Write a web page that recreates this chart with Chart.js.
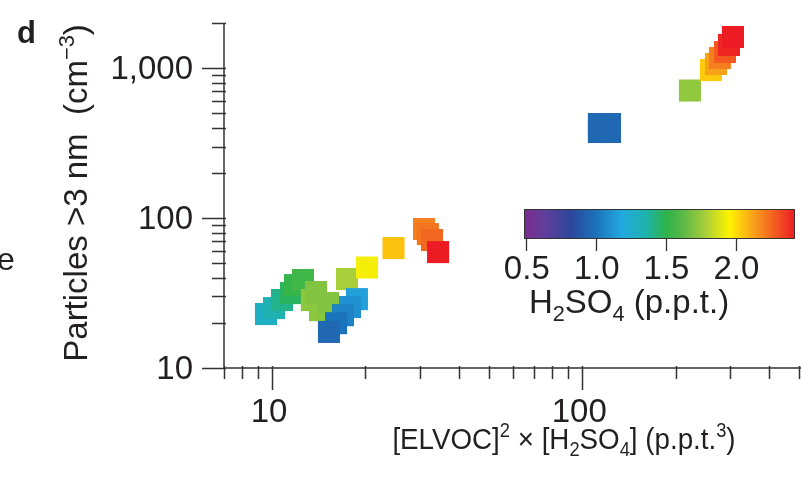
<!DOCTYPE html>
<html>
<head>
<meta charset="utf-8">
<script src="https://cdn.jsdelivr.net/npm/chart.js@4.4.1/dist/chart.umd.min.js"></script>
<style>
  html, body { margin: 0; padding: 0; background: #ffffff; }
  #wrap { position: relative; width: 801px; height: 481px; overflow: hidden; background: #ffffff; }
  #main { position: absolute; left: 0; top: 0; }
  #cbBox { position: absolute; left: 494px; top: 195px; width: 307px; height: 104px; }
</style>
</head>
<body>
<div id="wrap">
  <canvas id="main" width="801" height="481"></canvas>
  <div id="cbBox"><canvas id="cb" width="307" height="104"></canvas></div>
</div>
<script>
// ---------------- data ----------------
// [ELVOC]^2 x [H2SO4] (p.p.t.^3)
const xValues = [
  9.56, 10.15, 10.77, 11.51, 11.86, 12.58,
  13.44, 14.27, 15.15, 13.86,
  17.44, 20.24, 24.64,
  30.9, 31.8, 32.8, 34.3,
  18.78, 17.84, 16.93, 16.08, 15.26,
  113.2, 122.9, 113.2, 122.9,
  222.5, 260.1, 269.9, 278.0, 288.6, 297.3, 306.2
];
// Particles > 3 nm (cm^-3)
const yValues = [
  22.9, 25.1, 28.4, 31.6, 35.7, 38.6,
  28.4, 24.3, 27.1, 32.1,
  39.2, 46.8, 63.1,
  84.5, 78.2, 71.4, 59.3,
  28.8, 25.5, 22.5, 19.9, 17.4,
  424, 424, 375, 375,
  709, 971, 1065, 1168, 1281, 1427, 1613
];
// H2SO4 (p.p.t.) colour value
const h2so4Values = [
  1.28, 1.33, 1.40, 1.47, 1.52, 1.55,
  1.72, 1.72, 1.70, 1.70,
  1.78, 1.93, 2.05,
  2.20, 2.22, 2.25, 2.42,
  1.15, 1.10, 1.05, 1.00, 0.95,
  0.95, 0.95, 0.95, 0.95,
  1.73, 2.03, 2.12, 2.20, 2.28, 2.40, 2.42
];

const xMajorTicks = [10, 100];
const xTickLabels = ['10', '100'];
const xMinorTicks = [7, 8, 9, 20, 30, 40, 50, 60, 70, 80, 90, 200, 300, 400, 500];
const yMajorTicks = [10, 100, 1000];
const yTickLabels = ['10', '100', '1,000'];
const yMinorTicks = [20, 30, 40, 50, 60, 70, 80, 90, 200, 300, 400, 500, 600, 700, 800, 900, 2000];

const cbarTicks = [0.5, 1.0, 1.5, 2.0];
const cbarTickLabels = ['0.5', '1.0', '1.5', '2.0'];
const cbarMin = 0.48, cbarMax = 2.42;
const cmapValues = [0.48, 0.62, 0.82, 1.0, 1.18, 1.35, 1.5, 1.62, 1.78, 1.95, 2.15, 2.42];
const cmapColors = ['#7b2b8e', '#623e9b', '#2c479c', '#1b74bb', '#22a9e0', '#1db3ad', '#2db34a', '#5cb947', '#a8cf3a', '#fff200', '#f7941d', '#ed1c24'];

// ---------------- helpers ----------------
const FONT = "'Liberation Sans', Arial, Helvetica, sans-serif";
const INK = '#231f20';

function hexToRgb(h) {
  return [parseInt(h.slice(1, 3), 16), parseInt(h.slice(3, 5), 16), parseInt(h.slice(5, 7), 16)];
}
function colorFor(v) {
  if (v <= cmapValues[0]) return cmapColors[0];
  for (let i = 1; i < cmapValues.length; i++) {
    if (v <= cmapValues[i]) {
      const t = (v - cmapValues[i - 1]) / (cmapValues[i] - cmapValues[i - 1]);
      const a = hexToRgb(cmapColors[i - 1]), b = hexToRgb(cmapColors[i]);
      const c = a.map((x, k) => Math.round(x + (b[k] - x) * t));
      return 'rgb(' + c.join(',') + ')';
    }
  }
  return cmapColors[cmapColors.length - 1];
}

// draws text with super/subscripts; sx = horizontal squeeze factor
function richText(ctx, segs, x, y, size, align, sx) {
  sx = sx || 1;
  let total = 0;
  const ws = segs.map(s => {
    const fs = (s.sup || s.sub) ? size * 0.66 : size;
    ctx.font = fs + 'px ' + FONT;
    const w = ctx.measureText(s.t).width;
    total += w;
    return w;
  });
  ctx.save();
  ctx.translate(x, y);
  ctx.scale(sx, 1);
  let cx = align === 'center' ? -total / 2 : (align === 'right' ? -total : 0);
  ctx.textAlign = 'left';
  ctx.textBaseline = 'alphabetic';
  segs.forEach((s, i) => {
    const fs = (s.sup || s.sub) ? size * 0.66 : size;
    ctx.font = fs + 'px ' + FONT;
    const dy = s.sup ? -size * 0.40 : (s.sub ? size * 0.24 : 0);
    ctx.fillText(s.t, cx, dy);
    cx += ws[i];
  });
  ctx.restore();
}

const points = xValues.map((x, i) => ({ x: x, y: yValues[i] }));
const pointColors = h2so4Values.map(colorFor);

// ---------------- axes / text plugin ----------------
const axesPlugin = {
  id: 'axesPlugin',
  afterDraw(chart) {
    const ctx = chart.ctx;
    const xs = chart.scales.x, ys = chart.scales.y;
    const left = xs.getPixelForValue(7);
    const right = xs.getPixelForValue(500);
    const top = ys.getPixelForValue(2000);
    const bottom = ys.getPixelForValue(10);
    ctx.save();
    ctx.strokeStyle = '#333333';
    ctx.lineWidth = 1.5;
    ctx.beginPath();
    ctx.moveTo(left, top); ctx.lineTo(left, bottom);
    ctx.moveTo(left, bottom); ctx.lineTo(right + 3, bottom);
    yMajorTicks.forEach(v => { const p = Math.round(ys.getPixelForValue(v)) + 0.5; ctx.moveTo(left - 22, p); ctx.lineTo(left + 2, p); });
    yMinorTicks.forEach(v => { const p = Math.round(ys.getPixelForValue(v)) + 0.5; ctx.moveTo(left - 12, p); ctx.lineTo(left + 2, p); });
    xMajorTicks.forEach(v => { const p = Math.round(xs.getPixelForValue(v)) + 0.5; ctx.moveTo(p, bottom - 2); ctx.lineTo(p, bottom + 22); });
    xMinorTicks.forEach(v => { const p = Math.round(xs.getPixelForValue(v)) + 0.5; ctx.moveTo(p, bottom - 2); ctx.lineTo(p, bottom + 11); });
    ctx.stroke();

    ctx.fillStyle = INK;
    ctx.font = '33px ' + FONT;
    ctx.textAlign = 'right';
    ctx.textBaseline = 'middle';
    yMajorTicks.forEach((v, i) => ctx.fillText(yTickLabels[i], left - 31, ys.getPixelForValue(v) + 2));
    ctx.textAlign = 'center';
    xMajorTicks.forEach((v, i) => ctx.fillText(xTickLabels[i], xs.getPixelForValue(v) - 3, bottom + 45));

    // axis titles
    richText(ctx, [
      { t: '[ELVOC]' }, { t: '2', sup: true }, { t: ' \u00d7 [H' }, { t: '2', sub: true },
      { t: 'SO' }, { t: '4', sub: true }, { t: '] (p.p.t.' }, { t: '3', sup: true }, { t: ')' }
    ], 564, 449, 30, 'center', 0.925);

    ctx.save();
    ctx.translate(87, 193);
    ctx.rotate(-Math.PI / 2);
    richText(ctx, [
      { t: 'Particles >3 nm  (cm' }, { t: '\u22123', sup: true }, { t: ')' }
    ], 0, 0, 33, 'center', 1);
    ctx.restore();

    // colour bar title
    richText(ctx, [
      { t: 'H' }, { t: '2', sub: true }, { t: 'SO' }, { t: '4', sub: true }, { t: ' (p.p.t.)' }
    ], 629, 313, 33, 'center', 1);

    ctx.font = 'bold 31px ' + FONT;
    ctx.textAlign = 'left';
    ctx.textBaseline = 'alphabetic';
    ctx.fillText('d', 17, 43);
    ctx.font = '32px ' + FONT;
    ctx.fillText('e', -3, 270);
    ctx.restore();
  }
};

new Chart(document.getElementById('main'), {
  type: 'scatter',
  data: {
    datasets: [{
      data: points,
      pointStyle: 'rect',
      pointRadius: 15.6,
      pointHoverRadius: 15.6,
      pointBackgroundColor: pointColors,
      pointBorderWidth: 0,
      pointBorderColor: 'rgba(0,0,0,0)'
    }]
  },
  options: {
    responsive: false,
    animation: false,
    events: [],
    layout: { autoPadding: false, padding: { left: 224, right: 2, top: 23, bottom: 113 } },
    plugins: { legend: { display: false }, tooltip: { enabled: false } },
    scales: {
      x: { type: 'logarithmic', min: 7, max: 500, display: false },
      y: { type: 'logarithmic', min: 10, max: 2000, display: false }
    }
  },
  plugins: [axesPlugin]
});

// ---------------- colour bar chart ----------------
new Chart(document.getElementById('cb'), {
  type: 'bar',
  data: {
    labels: [''],
    datasets: [{
      data: [[cbarMin, cbarMax]],
      backgroundColor(c) {
        const ch = c.chart;
        const a = ch.chartArea;
        if (!a) return '#888';
        const xs = ch.scales.x;
        const g = ch.ctx.createLinearGradient(xs.getPixelForValue(cbarMin), 0, xs.getPixelForValue(cbarMax), 0);
        cmapValues.forEach((v, i) => g.addColorStop((v - cbarMin) / (cbarMax - cbarMin), cmapColors[i]));
        return g;
      },
      borderColor: '#333333',
      borderWidth: 1.3,
      borderSkipped: false,
      barPercentage: 1,
      categoryPercentage: 1
    }]
  },
  options: {
    indexAxis: 'y',
    responsive: false,
    animation: false,
    events: [],
    layout: { autoPadding: false, padding: { left: 30, right: 6, top: 14, bottom: 0 } },
    plugins: { legend: { display: false }, tooltip: { enabled: false } },
    scales: {
      x: {
        type: 'linear',
        min: cbarMin,
        max: cbarMax,
        afterBuildTicks(scale) { scale.ticks = cbarTicks.map(v => ({ value: v })); },
        afterFit(scale) { scale.height = 60; },
        grid: { drawOnChartArea: false, drawTicks: true, tickLength: 12, tickColor: '#333333', tickWidth: 1.3 },
        border: { display: false },
        ticks: {
          color: INK,
          font: { family: FONT, size: 33 },
          padding: -1,
          maxRotation: 0,
          autoSkip: false,
          callback(v) { const i = cbarTicks.indexOf(v); return i >= 0 ? cbarTickLabels[i] : ''; }
        }
      },
      y: { display: false }
    }
  }
});
</script>
</body>
</html>
